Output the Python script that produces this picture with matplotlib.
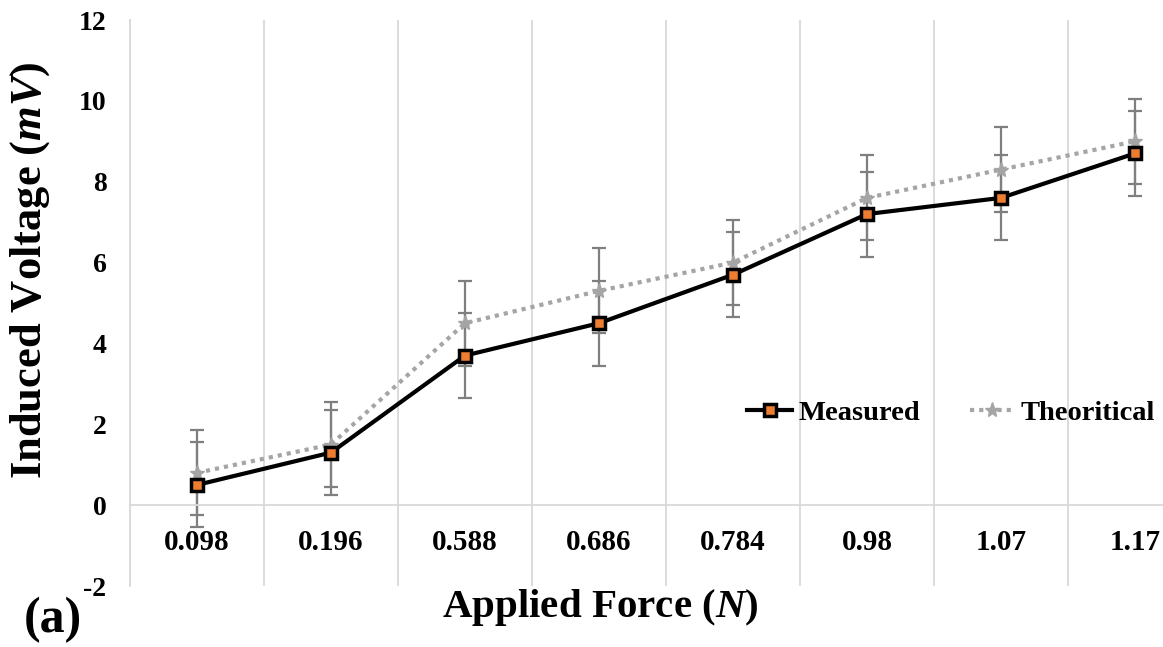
import matplotlib
matplotlib.use("Agg")
import matplotlib.pyplot as plt
import numpy as np

categories = ["0.098", "0.196", "0.588", "0.686", "0.784", "0.98", "1.07", "1.17"]
measured = [0.5, 1.3, 3.7, 4.5, 5.7, 7.2, 7.6, 8.7]
theoretical = [0.8, 1.5, 4.5, 5.3, 6.0, 7.6, 8.3, 9.0]
measured_err = [1.05] * 8
theoretical_err = [1.05] * 8
y_ticks = [-2, 0, 2, 4, 6, 8, 10, 12]

plt.rcParams['font.family'] = ['Liberation Serif', 'DejaVu Serif']
plt.rcParams['font.weight'] = 'bold'
plt.rcParams['mathtext.fontset'] = 'custom'
plt.rcParams['mathtext.it'] = 'Liberation Serif:italic:bold'
plt.rcParams['mathtext.rm'] = 'Liberation Serif:bold'

W, H = 1163, 647
fig = plt.figure(figsize=(W / 100, H / 100), dpi=100)
left, right, top, bottom = 130, 1202, 20, 586
ax = fig.add_axes([left / W, 1 - bottom / H, (right - left) / W, (bottom - top) / H])

grid_c = '#D9D9D9'
err_c = '#7F7F7F'

for s in ['top', 'right']:
    ax.spines[s].set_visible(False)
ax.spines['bottom'].set_position(('data', 0))
ax.spines['left'].set_color(grid_c)
ax.spines['left'].set_linewidth(1.3)
ax.spines['bottom'].set_color(grid_c)
ax.spines['bottom'].set_linewidth(1.3)

x = np.arange(len(categories))

ax.errorbar(x, theoretical, yerr=theoretical_err, fmt='none', ecolor=err_c,
            elinewidth=1.6, capsize=5, capthick=1.6, zorder=2)
ax.errorbar(x, measured, yerr=measured_err, fmt='none', ecolor=err_c,
            elinewidth=1.6, capsize=5, capthick=1.6, zorder=2)
ax.plot(x, theoretical, linestyle=(0, (1, 1.2)), color='#A5A5A5', lw=3,
        marker='*', markersize=11, markerfacecolor='#A5A5A5', markeredgecolor='#A5A5A5',
        label='Theoritical', zorder=3)
ax.plot(x, measured, color='black', lw=3, marker='s', markersize=8,
        markerfacecolor='#ED7D31', markeredgecolor='black', markeredgewidth=2.5,
        label='Measured', zorder=4)

ax.set_xlim(-0.5, len(categories) - 0.5)
ax.set_ylim(-2, 12)
ax.set_yticks(y_ticks)
ax.set_yticklabels([str(v) for v in y_ticks], fontsize=20, fontweight='bold')
ax.set_xticks(x)
ax.set_xticklabels(categories, fontsize=21, fontweight='bold')
ax.set_xticks(np.arange(len(categories) + 1) - 0.5, minor=True)
ax.tick_params(axis='x', which='both', length=0, pad=17)
ax.tick_params(axis='y', length=0, pad=17)
ax.grid(True, which='minor', axis='x', color=grid_c, lw=1.3)
ax.grid(False, which='major')
ax.set_axisbelow(True)

fig.text(30 / W, 1 - 270 / H, 'Induced Voltage ($mV$)', rotation=90, fontsize=32,
         fontweight='bold', ha='center', va='center')
fig.text(600 / W, 1 - 607 / H, 'Applied Force ($N$)', fontsize=29.5,
         fontweight='bold', ha='center', va='center')
fig.text(24 / W, 1 - 620 / H, '(a)', fontsize=36, fontweight='bold', ha='left', va='center')

handles, labels = ax.get_legend_handles_labels()
leg = fig.legend(handles[::-1], labels[::-1], loc='center', ncol=2,
                 bbox_to_anchor=(951 / W, 1 - 413 / H), frameon=False,
                 prop={'family': 'Liberation Serif', 'weight': 'bold', 'size': 20.5},
                 handlelength=1.6, columnspacing=1.75, handletextpad=0.2)

fig.savefig('out.png', dpi=100)
